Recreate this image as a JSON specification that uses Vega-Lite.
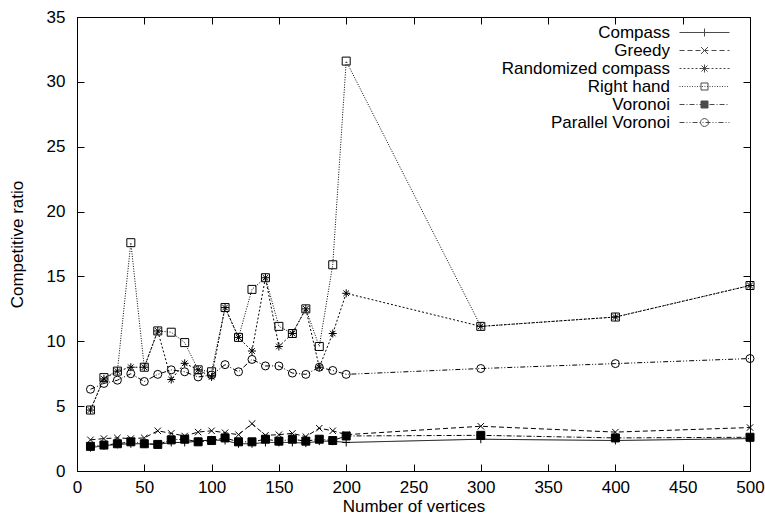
{
  "$schema": "https://vega.github.io/schema/vega-lite/v6.json",
  "width": 673,
  "height": 454,
  "autosize": {"type": "none"},
  "padding": {"left": 77, "top": 17, "right": 15, "bottom": 43},
  "config": {
    "view": {"stroke": "black", "strokeWidth": 1},
    "font": "Liberation Sans",
    "axis": {
      "domain": false, "grid": false, "tickColor": "black", "tickSize": -7, "tickWidth": 1,
      "labelColor": "black", "labelFont": "Liberation Sans", "labelFontSize": 17,
      "titleColor": "black", "titleFont": "Liberation Sans", "titleFontSize": 17, "titleFontWeight": "normal",
      "labelFlush": false
    },
    "legend": {
      "labelFont": "Liberation Sans", "labelFontSize": 17, "labelColor": "black"
    }
  },
  "datasets": {
    "d": [
      {"x":10,"y":1.8,"s":"Compass"},{"x":20,"y":1.95,"s":"Compass"},{"x":30,"y":2.05,"s":"Compass"},{"x":40,"y":2.1,"s":"Compass"},{"x":50,"y":2.1,"s":"Compass"},{"x":60,"y":2.05,"s":"Compass"},{"x":70,"y":2.2,"s":"Compass"},{"x":80,"y":2.2,"s":"Compass"},{"x":90,"y":2.3,"s":"Compass"},{"x":100,"y":2.4,"s":"Compass"},{"x":110,"y":2.35,"s":"Compass"},{"x":120,"y":2.1,"s":"Compass"},{"x":130,"y":2.1,"s":"Compass"},{"x":140,"y":2.2,"s":"Compass"},{"x":150,"y":2.2,"s":"Compass"},{"x":160,"y":2.2,"s":"Compass"},{"x":170,"y":2.15,"s":"Compass"},{"x":180,"y":2.3,"s":"Compass"},{"x":190,"y":2.3,"s":"Compass"},{"x":200,"y":2.2,"s":"Compass"},{"x":300,"y":2.45,"s":"Compass"},{"x":400,"y":2.35,"s":"Compass"},{"x":500,"y":2.5,"s":"Compass"},
      {"x":10,"y":2.4,"s":"Greedy"},{"x":20,"y":2.5,"s":"Greedy"},{"x":30,"y":2.55,"s":"Greedy"},{"x":40,"y":2.5,"s":"Greedy"},{"x":50,"y":2.55,"s":"Greedy"},{"x":60,"y":3.1,"s":"Greedy"},{"x":70,"y":2.9,"s":"Greedy"},{"x":80,"y":2.7,"s":"Greedy"},{"x":90,"y":3.0,"s":"Greedy"},{"x":100,"y":3.1,"s":"Greedy"},{"x":110,"y":2.95,"s":"Greedy"},{"x":120,"y":2.8,"s":"Greedy"},{"x":130,"y":3.65,"s":"Greedy"},{"x":140,"y":2.75,"s":"Greedy"},{"x":150,"y":2.8,"s":"Greedy"},{"x":160,"y":2.9,"s":"Greedy"},{"x":170,"y":2.65,"s":"Greedy"},{"x":180,"y":3.3,"s":"Greedy"},{"x":190,"y":3.1,"s":"Greedy"},{"x":200,"y":2.8,"s":"Greedy"},{"x":300,"y":3.45,"s":"Greedy"},{"x":400,"y":3.0,"s":"Greedy"},{"x":500,"y":3.35,"s":"Greedy"},
      {"x":10,"y":4.7,"s":"Randomized compass"},{"x":20,"y":7.1,"s":"Randomized compass"},{"x":30,"y":7.7,"s":"Randomized compass"},{"x":40,"y":8.0,"s":"Randomized compass"},{"x":50,"y":8.0,"s":"Randomized compass"},{"x":60,"y":10.8,"s":"Randomized compass"},{"x":70,"y":7.05,"s":"Randomized compass"},{"x":80,"y":8.3,"s":"Randomized compass"},{"x":90,"y":7.8,"s":"Randomized compass"},{"x":100,"y":7.25,"s":"Randomized compass"},{"x":110,"y":12.6,"s":"Randomized compass"},{"x":120,"y":10.3,"s":"Randomized compass"},{"x":130,"y":9.25,"s":"Randomized compass"},{"x":140,"y":14.9,"s":"Randomized compass"},{"x":150,"y":9.6,"s":"Randomized compass"},{"x":160,"y":10.6,"s":"Randomized compass"},{"x":170,"y":12.5,"s":"Randomized compass"},{"x":180,"y":8.0,"s":"Randomized compass"},{"x":190,"y":10.6,"s":"Randomized compass"},{"x":200,"y":13.7,"s":"Randomized compass"},{"x":300,"y":11.15,"s":"Randomized compass"},{"x":400,"y":11.87,"s":"Randomized compass"},{"x":500,"y":14.3,"s":"Randomized compass"},
      {"x":10,"y":4.7,"s":"Right hand"},{"x":20,"y":7.2,"s":"Right hand"},{"x":30,"y":7.7,"s":"Right hand"},{"x":40,"y":17.6,"s":"Right hand"},{"x":50,"y":8.0,"s":"Right hand"},{"x":60,"y":10.8,"s":"Right hand"},{"x":70,"y":10.7,"s":"Right hand"},{"x":80,"y":9.9,"s":"Right hand"},{"x":90,"y":7.8,"s":"Right hand"},{"x":100,"y":7.65,"s":"Right hand"},{"x":110,"y":12.6,"s":"Right hand"},{"x":120,"y":10.3,"s":"Right hand"},{"x":130,"y":14.0,"s":"Right hand"},{"x":140,"y":14.9,"s":"Right hand"},{"x":150,"y":11.15,"s":"Right hand"},{"x":160,"y":10.6,"s":"Right hand"},{"x":170,"y":12.5,"s":"Right hand"},{"x":180,"y":9.6,"s":"Right hand"},{"x":190,"y":15.9,"s":"Right hand"},{"x":200,"y":31.6,"s":"Right hand"},{"x":300,"y":11.15,"s":"Right hand"},{"x":400,"y":11.87,"s":"Right hand"},{"x":500,"y":14.3,"s":"Right hand"},
      {"x":10,"y":1.9,"s":"Voronoi"},{"x":20,"y":2.0,"s":"Voronoi"},{"x":30,"y":2.1,"s":"Voronoi"},{"x":40,"y":2.25,"s":"Voronoi"},{"x":50,"y":2.1,"s":"Voronoi"},{"x":60,"y":2.05,"s":"Voronoi"},{"x":70,"y":2.4,"s":"Voronoi"},{"x":80,"y":2.45,"s":"Voronoi"},{"x":90,"y":2.25,"s":"Voronoi"},{"x":100,"y":2.35,"s":"Voronoi"},{"x":110,"y":2.55,"s":"Voronoi"},{"x":120,"y":2.25,"s":"Voronoi"},{"x":130,"y":2.25,"s":"Voronoi"},{"x":140,"y":2.45,"s":"Voronoi"},{"x":150,"y":2.3,"s":"Voronoi"},{"x":160,"y":2.45,"s":"Voronoi"},{"x":170,"y":2.3,"s":"Voronoi"},{"x":180,"y":2.45,"s":"Voronoi"},{"x":190,"y":2.35,"s":"Voronoi"},{"x":200,"y":2.7,"s":"Voronoi"},{"x":300,"y":2.75,"s":"Voronoi"},{"x":400,"y":2.55,"s":"Voronoi"},{"x":500,"y":2.6,"s":"Voronoi"},
      {"x":10,"y":6.3,"s":"Parallel Voronoi"},{"x":20,"y":6.75,"s":"Parallel Voronoi"},{"x":30,"y":7.0,"s":"Parallel Voronoi"},{"x":40,"y":7.5,"s":"Parallel Voronoi"},{"x":50,"y":6.9,"s":"Parallel Voronoi"},{"x":60,"y":7.45,"s":"Parallel Voronoi"},{"x":70,"y":7.8,"s":"Parallel Voronoi"},{"x":80,"y":7.65,"s":"Parallel Voronoi"},{"x":90,"y":7.25,"s":"Parallel Voronoi"},{"x":100,"y":7.4,"s":"Parallel Voronoi"},{"x":110,"y":8.2,"s":"Parallel Voronoi"},{"x":120,"y":7.65,"s":"Parallel Voronoi"},{"x":130,"y":8.6,"s":"Parallel Voronoi"},{"x":140,"y":8.1,"s":"Parallel Voronoi"},{"x":150,"y":8.1,"s":"Parallel Voronoi"},{"x":160,"y":7.55,"s":"Parallel Voronoi"},{"x":170,"y":7.45,"s":"Parallel Voronoi"},{"x":180,"y":8.0,"s":"Parallel Voronoi"},{"x":190,"y":7.75,"s":"Parallel Voronoi"},{"x":200,"y":7.45,"s":"Parallel Voronoi"},{"x":300,"y":7.9,"s":"Parallel Voronoi"},{"x":400,"y":8.28,"s":"Parallel Voronoi"},{"x":500,"y":8.67,"s":"Parallel Voronoi"}
    ]
  },
  "data": {"name": "d"},
  "resolve": {"scale": {"shape": "independent"}, "axis": {"x": "independent", "y": "independent"}},
  "layer": [
    {
      "mark": {"type": "line", "color": "black", "strokeWidth": 1},
      "encoding": {
        "x": {"field": "x", "type": "quantitative", "scale": {"domain": [0, 500], "nice": false},
              "axis": {"orient": "bottom", "values": [0,50,100,150,200,250,300,350,400,450,500], "labelPadding": 15, "title": "Number of vertices", "titlePadding": 3}},
        "y": {"field": "y", "type": "quantitative", "scale": {"domain": [0, 35], "nice": false},
              "axis": {"orient": "left", "values": [0,5,10,15,20,25,30,35], "labelPadding": 19, "title": "Competitive ratio", "titlePadding": 20}},
        "detail": {"field": "s"},
        "strokeDash": {"field": "s", "type": "nominal", "legend": null,
          "scale": {"domain": ["Compass","Greedy","Randomized compass","Right hand","Voronoi","Parallel Voronoi"],
                    "range": [[1,0],[5,3],[2,2],[1,1.5],[5,2,1,2],[5,2,1,2,1,2]]}}
      }
    },
    {
      "mark": {"type": "point", "filled": false, "stroke": "black", "strokeWidth": 1, "opacity": 1},
      "encoding": {
        "x": {"field": "x", "type": "quantitative", "axis": null},
        "y": {"field": "y", "type": "quantitative", "axis": null},
        "shape": {"field": "s", "type": "nominal", "legend": null,
          "scale": {"domain": ["Compass","Greedy","Randomized compass","Right hand","Voronoi","Parallel Voronoi"],
                    "range": ["M-1,0H1M0,-1V1", "M-0.8,-0.8L0.8,0.8M-0.8,0.8L0.8,-0.8", "M-1,0H1M0,-1V1M-0.7,-0.7L0.7,0.7M-0.7,0.7L0.7,-0.7", "square", "square", "circle"]}},
        "size": {"field": "s", "type": "nominal", "legend": null,
          "scale": {"domain": ["Compass","Greedy","Randomized compass","Right hand","Voronoi","Parallel Voronoi"],
                    "range": [64, 64, 64, 56, 56, 52]}},
        "fill": {"field": "s", "type": "nominal", "legend": null,
          "scale": {"domain": ["Compass","Greedy","Randomized compass","Right hand","Voronoi","Parallel Voronoi"],
                    "range": ["transparent","transparent","transparent","transparent","black","transparent"]}}
      }
    },
    {
      "transform": [{"filter": "datum.x < 0"}],
      "mark": {"type": "point", "filled": false, "color": "black", "strokeWidth": 1},
      "encoding": {
        "x": {"field": "x", "type": "quantitative",
              "axis": {"orient": "top", "values": [0,50,100,150,200,250,300,350,400,450,500], "labels": false, "title": null}},
        "y": {"field": "y", "type": "quantitative",
              "axis": {"orient": "right", "values": [0,5,10,15,20,25,30,35], "labels": false, "title": null}},
        "shape": {"field": "s", "type": "nominal",
          "scale": {"domain": ["Compass","Greedy","Randomized compass","Right hand","Voronoi","Parallel Voronoi"],
                    "range": [
                      "M-25,0H25M0,-4V4M36,0",
                      "M-25,0H-20M-17,0H-12M-9,0H-4M-1,0H4M7,0H12M15,0H20M23,0H25M-3.5,-3.5L3.5,3.5M-3.5,3.5L3.5,-3.5M36,0",
                      "M-25,0H-23M-21,0H-19M-17,0H-15M-13,0H-11M-9,0H-7M-5,0H-3M-1,0H1M3,0H5M7,0H9M11,0H13M15,0H17M19,0H21M23,0H25M-4,0H4M0,-4V4M-3,-3L3,3M-3,3L3,-3M36,0",
                      "M-25,0H-24M-22.5,0H-21.5M-20,0H-19M-17.5,0H-16.5M-15,0H-14M-12.5,0H-11.5M-10,0H-9M-7.5,0H-6.5M-5,0H-4M-2.5,0H-1.5M0,0H1M2.5,0H3.5M5,0H6M7.5,0H8.5M10,0H11M12.5,0H13.5M15,0H16M17.5,0H18.5M20,0H21M22.5,0H23.5M-3.5,-3.5H3.5V3.5H-3.5ZM36,0",
                      "M-25,0H-20M-18,0H-17M-15,0H-10M-8,0H-7M-5,0H0M2,0H3M5,0H10M12,0H13M15,0H20M22,0H23M-3.5,-3.5H3.5V3.5H-3.5ZM-3.5,-3H3.5M-3.5,-2H3.5M-3.5,-1H3.5M-3.5,0H3.5M-3.5,1H3.5M-3.5,2H3.5M-3.5,3H3.5M36,0",
                      "M-25,0H-20M-18,0H-17M-15,0H-14M-12,0H-7M-5,0H-4M-2,0H-1M1,0H6M8,0H9M11,0H12M14,0H19M21,0H22M24,0H25M4,0L3.46,2L2,3.46L0,4L-2,3.46L-3.46,2L-4,0L-3.46,-2L-2,-3.46L0,-4L2,-3.46L3.46,-2ZM36,0"
                    ]},
          "legend": {"orient": "top-right", "offset": 7, "title": null, "padding": 0,
                     "labelAlign": "right", "labelOffset": -43, "labelLimit": 400,
                     "symbolSize": 4, "symbolStrokeWidth": 1, "symbolStrokeColor": "black", "symbolFillColor": "transparent",
                     "rowPadding": 0}
        }
      }
    }
  ]
}
